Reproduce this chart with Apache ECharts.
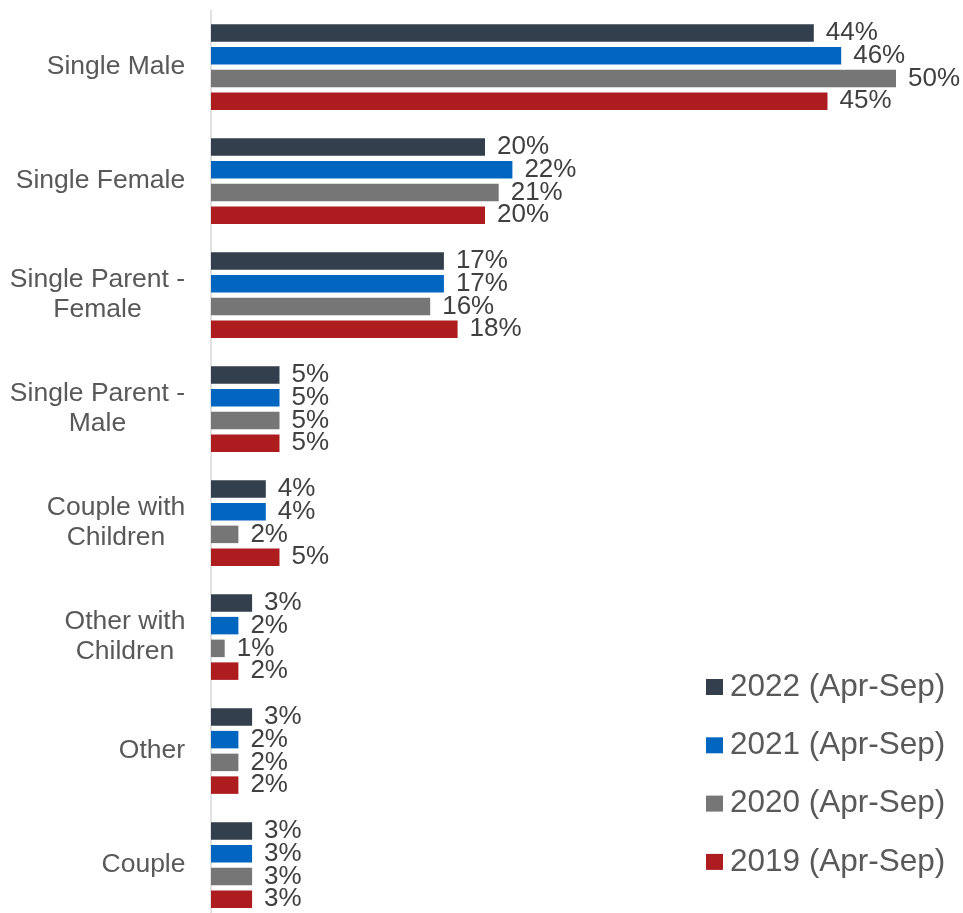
<!DOCTYPE html>
<html>
<head>
<meta charset="utf-8">
<script src="https://cdn.jsdelivr.net/npm/echarts@6/dist/echarts.min.js"></script>
<style>html,body{margin:0;padding:0;background:#fff}#c{width:963px;height:913px}</style>
</head>
<body>
<div id="c"></div>
<script>
const categories = ["Single Male", "Single Female", "Single Parent -\nFemale", "Single Parent -\nMale", "Couple with\nChildren", "Other with\nChildren", "Other", "Couple"];
const seriesNames = ["2022 (Apr-Sep)", "2021 (Apr-Sep)", "2020 (Apr-Sep)", "2019 (Apr-Sep)"];
const values2022 = [44, 20, 17, 5, 4, 3, 3, 3];
const values2021 = [46, 22, 17, 5, 4, 2, 2, 3];
const values2020 = [50, 21, 16, 5, 2, 1, 2, 3];
const values2019 = [45, 20, 18, 5, 5, 2, 2, 3];
const colors = ["#333F4C", "#0066C0", "#767676", "#AD1C1F"];

const allValues = [values2022, values2021, values2020, values2019];
const font = '"Liberation Sans", Arial, sans-serif';
const catFontSize = 26.5;

// measure each category's widest line so multi-line labels can be centred line by line
const ctx = document.createElement('canvas').getContext('2d');
ctx.font = catFontSize + 'px "Liberation Sans"';
const rich = {};
categories.forEach((c, i) => {
  const w = Math.max(...c.split('\n').map(s => ctx.measureText(s).width));
  rich['c' + i] = {fontFamily: font, fontSize: catFontSize, color: '#595959', lineHeight: 30, width: Math.ceil(w) + 1, align: 'center'};
});

const chart = echarts.init(document.getElementById('c'), null, {renderer: 'canvas'});
chart.setOption({
  animation: false,
  backgroundColor: '#ffffff',
  legend: {
    orient: 'vertical',
    left: 706,
    top: 671,
    padding: 0,
    itemWidth: 17,
    itemHeight: 16,
    itemGap: 26.3,
    icon: 'rect',
    textStyle: {fontFamily: font, fontSize: 31.5, color: '#595959', lineHeight: 30, padding: [0, 0, 0, 2]},
    data: seriesNames
  },
  grid: {left: 211, width: 685, top: 10, height: 912, containLabel: false, outerBoundsMode: 'none'},
  xAxis: {
    type: 'value', min: 0, max: 50,
    show: false
  },
  yAxis: {
    type: 'category',
    inverse: true,
    data: categories,
    axisLine: {show: true, lineStyle: {color: '#D9D9D9', width: 1.5}},
    axisTick: {show: false},
    axisLabel: {
      margin: 25,
      formatter: function (v, idx) { return v.split('\n').map(s => '{c' + idx + '|' + s + '}').join('\n'); },
      rich: rich
    }
  },
  series: allValues.map((vals, i) => ({
    name: seriesNames[i],
    type: 'bar',
    data: vals,
    barWidth: 17.5,
    barGap: '30%',
    itemStyle: {color: colors[i]},
    label: {
      show: true,
      position: 'right',
      distance: 12,
      formatter: '{c}%',
      fontFamily: font,
      fontSize: 26,
      color: '#404040'
    }
  }))
});
</script>
</body>
</html>
